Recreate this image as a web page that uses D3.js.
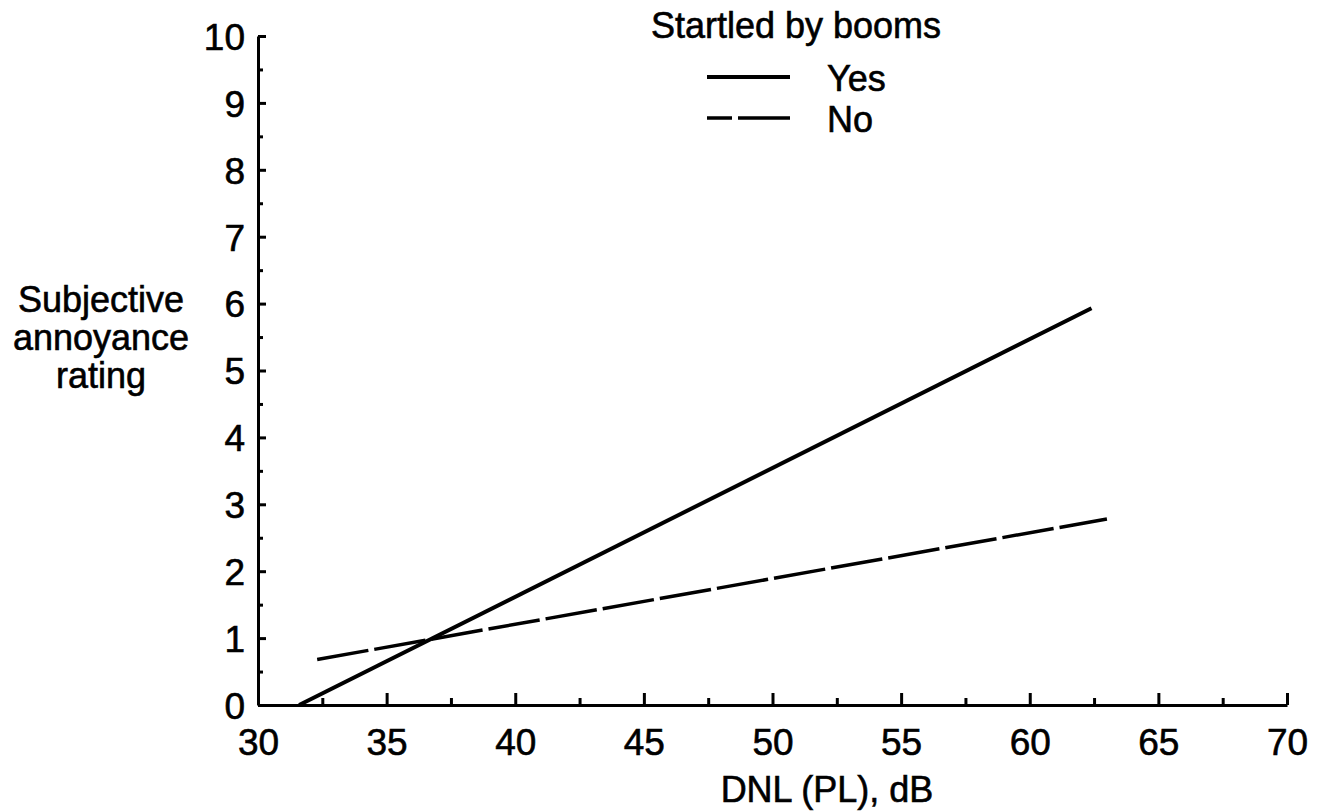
<!DOCTYPE html>
<html>
<head>
<meta charset="utf-8">
<script src="https://cdn.jsdelivr.net/npm/d3@7"></script>
<style>
  body { margin: 0; background: #fff; }
  svg text { font-family: "Liberation Sans", Arial, sans-serif; fill: #000; stroke: #000; stroke-width: 0.6px; }
</style>
</head>
<body>
<div id="chart"></div>
<script>
// data
const seriesNames = ["Yes", "No"];
const yesLine = [[31.6, 0], [62.4, 5.93]];
const noLine = [[32.3, 0.68], [63.0, 2.78]];
const xMajorTicks = [30, 35, 40, 45, 50, 55, 60, 65, 70];
const xMinorTicks = [32.5, 37.5, 42.5, 47.5, 52.5, 57.5, 62.5, 67.5];
const yMajorTicks = [0, 1, 2, 3, 4, 5, 6, 7, 8, 9, 10];
const yMinorTicks = [0.5, 1.5, 2.5, 3.5, 4.5, 5.5, 6.5, 7.5, 8.5, 9.5];

const width = 1324, height = 811;

const svg = d3.select("#chart").append("svg")
  .attr("width", width)
  .attr("height", height);

const x = d3.scaleLinear().domain([30, 70]).range([258, 1287]);
const y = d3.scaleLinear().domain([0, 10]).range([705, 36]);

// x axis
const xAxis = g => g
  .attr("transform", `translate(0,${y(0)})`)
  .call(d3.axisBottom(x).tickValues(xMajorTicks).tickSizeInner(-12).tickSizeOuter(0).tickPadding(24))
  .call(g => g.select(".domain").attr("stroke-width", 3))
  .call(g => g.selectAll(".tick line").attr("stroke-width", 3))
  .call(g => g.selectAll("text").attr("font-size", 37).attr("font-family", null));

svg.append("g").call(xAxis);

svg.append("g")
  .attr("transform", `translate(0,${y(0)})`)
  .call(d3.axisBottom(x).tickValues(xMinorTicks).tickSizeInner(-7).tickSizeOuter(0).tickFormat(""))
  .call(g => g.select(".domain").remove())
  .call(g => g.selectAll(".tick line").attr("stroke-width", 3));

// y axis
const yAxis = g => g
  .attr("transform", `translate(${x(30)},0)`)
  .call(d3.axisLeft(y).tickValues(yMajorTicks).tickSizeInner(-8).tickSizeOuter(0).tickPadding(13))
  .call(g => g.select(".domain").attr("stroke-width", 3))
  .call(g => g.selectAll(".tick line").attr("stroke-width", 3))
  .call(g => g.selectAll("text").attr("font-size", 37).attr("font-family", null).attr("dy", "0.36em"));

svg.append("g").call(yAxis);

svg.append("g")
  .attr("transform", `translate(${x(30)},0)`)
  .call(d3.axisLeft(y).tickValues(yMinorTicks).tickSizeInner(-5).tickSizeOuter(0).tickFormat(""))
  .call(g => g.select(".domain").remove())
  .call(g => g.selectAll(".tick line").attr("stroke-width", 3));

// axis titles
svg.append("text")
  .attr("x", 827)
  .attr("y", 802)
  .attr("text-anchor", "middle")
  .attr("font-size", 36)
  .text("DNL (PL), dB");

svg.append("text")
  .attr("text-anchor", "middle")
  .attr("font-size", 36)
  .selectAll("tspan")
  .data(["Subjective", "annoyance", "rating"])
  .join("tspan")
  .attr("x", 101)
  .attr("y", (d, i) => 312 + i * 38)
  .text(d => d);

// lines
const line = d3.line().x(d => x(d[0])).y(d => y(d[1]));

svg.append("path")
  .datum(yesLine)
  .attr("d", line)
  .attr("fill", "none")
  .attr("stroke", "#000")
  .attr("stroke-width", 4);

svg.append("path")
  .datum(noLine)
  .attr("d", line)
  .attr("fill", "none")
  .attr("stroke", "#000")
  .attr("stroke-width", 3.5)
  .attr("stroke-dasharray", "52,6");

// legend
svg.append("text")
  .attr("x", 796)
  .attr("y", 38)
  .attr("text-anchor", "middle")
  .attr("font-size", 36)
  .text("Startled by booms");

const legend = svg.append("g");
seriesNames.forEach((name, i) => {
  const ly = 77 + i * 41;
  legend.append("line")
    .attr("x1", 707).attr("x2", 790)
    .attr("y1", ly).attr("y2", ly)
    .attr("stroke", "#000")
    .attr("stroke-width", i === 0 ? 4 : 3.5)
    .attr("stroke-dasharray", i === 0 ? null : "25,6,52")
  legend.append("text")
    .attr("x", 827)
    .attr("y", ly + 14)
    .attr("font-size", 36)
    .text(name);
});
</script>
</body>
</html>
